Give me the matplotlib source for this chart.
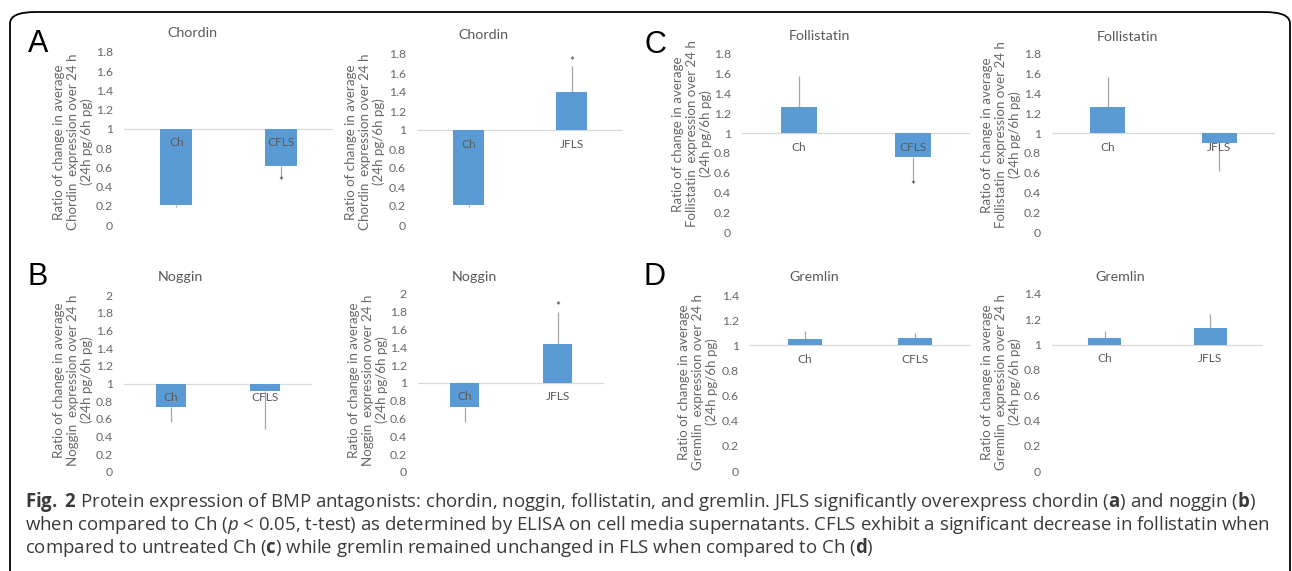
import matplotlib
matplotlib.use("Agg")
import matplotlib.pyplot as plt
from matplotlib.patches import FancyBboxPatch

# ---- data ----
chordin_cfls_cats = ["Ch", "CFLS"]
chordin_cfls_vals = [0.21, 0.61]
chordin_cfls_err = [0.02, 0.11]
chordin_cfls_sig = [False, True]

chordin_jfls_cats = ["Ch", "JFLS"]
chordin_jfls_vals = [0.21, 1.40]
chordin_jfls_err = [0.02, 0.27]
chordin_jfls_sig = [False, True]

noggin_cfls_cats = ["Ch", "CFLS"]
noggin_cfls_vals = [0.74, 0.92]
noggin_cfls_err = [0.18, 0.43]
noggin_cfls_sig = [False, False]

noggin_jfls_cats = ["Ch", "JFLS"]
noggin_jfls_vals = [0.73, 1.44]
noggin_jfls_err = [0.17, 0.36]
noggin_jfls_sig = [False, True]

follistatin_cfls_cats = ["Ch", "CFLS"]
follistatin_cfls_vals = [1.26, 0.76]
follistatin_cfls_err = [0.32, 0.24]
follistatin_cfls_sig = [False, True]

follistatin_jfls_cats = ["Ch", "JFLS"]
follistatin_jfls_vals = [1.26, 0.90]
follistatin_jfls_err = [0.31, 0.28]
follistatin_jfls_sig = [False, False]

gremlin_cfls_cats = ["Ch", "CFLS"]
gremlin_cfls_vals = [1.05, 1.06]
gremlin_cfls_err = [0.06, 0.04]
gremlin_cfls_sig = [False, False]

gremlin_jfls_cats = ["Ch", "JFLS"]
gremlin_jfls_vals = [1.05, 1.13]
gremlin_jfls_err = [0.06, 0.11]
gremlin_jfls_sig = [False, False]

caption_lines = [
    r"$\mathbf{Fig.}$ $\mathbf{2}$ Protein expression of BMP antagonists: chordin, noggin, follistatin, and gremlin. "
    r"JFLS significantly overexpress chordin ($\mathbf{a}$) and noggin ($\mathbf{b}$)",
    r"when compared to Ch ($\mathit{p}$ < 0.05, t-test) as determined by ELISA on cell media supernatants. "
    r"CFLS exhibit a significant decrease in follistatin when",
    r"compared to untreated Ch ($\mathbf{c}$) while gremlin remained unchanged in FLS when compared to Ch ($\mathbf{d}$)",
]

W, H = 1292, 571
BLUE = "#5b9bd5"
GRAY = "#686868"
CHART_FONT = ["Lato", "DejaVu Sans"]

plt.rcParams["mathtext.fontset"] = "custom"
plt.rcParams["mathtext.rm"] = "Open Sans"
plt.rcParams["mathtext.bf"] = "Open Sans:bold"
plt.rcParams["mathtext.it"] = "Open Sans:italic"

fig = plt.figure(figsize=(W / 100, H / 100), dpi=100)


def px_axes(l, t, r, b):
    return fig.add_axes([l / W, 1 - b / H, (r - l) / W, (b - t) / H])


def draw_panel(rect, cats, vals, errs, sig, ymax, protein, title_xy, ylab_xy):
    ax = px_axes(*rect)
    x = list(range(len(cats)))
    heights = [v - 1 for v in vals]
    ax.bar(x, heights, bottom=1, width=0.31, color=BLUE, zorder=2)
    lower = [e if v < 1 else 0 for v, e in zip(vals, errs)]
    upper = [e if v >= 1 else 0 for v, e in zip(vals, errs)]
    ax.errorbar(x, vals, yerr=[lower, upper], fmt="none", ecolor="#a6a6a6",
                elinewidth=0.9, capsize=0, zorder=1)
    ax.axhline(1, color="#d9d9d9", lw=0.9, zorder=0)
    for i, c in enumerate(cats):
        ax.annotate(c, (i, 1), xytext=(0, -14), textcoords="offset pixels",
                    ha="center", va="center", fontsize=8.6, color="#595959",
                    family=CHART_FONT, zorder=3)
        if sig[i]:
            end = vals[i] + upper[i] - lower[i]
            dy = 5 if vals[i] >= 1 else -5
            ax.annotate("*", (i, end), xytext=(0, dy), textcoords="offset pixels",
                        ha="center", va="center", fontsize=8.5, color="#404040",
                        family=CHART_FONT)
    ax.set_xlim(-0.5, len(cats) - 0.5)
    ax.set_ylim(0, ymax)
    ticks = [round(i * 0.2, 1) for i in range(int(round(ymax / 0.2)) + 1)]
    ax.set_yticks(ticks)
    ax.set_yticklabels([f"{t:g}" for t in ticks], fontsize=8.8, color=GRAY,
                       family=CHART_FONT)
    ax.tick_params(axis="y", length=0, pad=8)
    ax.set_xticks([])
    for s in ax.spines.values():
        s.set_visible(False)
    ax.patch.set_alpha(0)
    fig.text(title_xy[0] / W, 1 - title_xy[1] / H, protein, ha="center", va="center",
             fontsize=10.3, color="#595959", family=CHART_FONT)
    fig.text((ylab_xy[0] - 4) / W, 1 - ylab_xy[1] / H,
             "Ratio of change in average\n" + protein + "  expression over 24 h\n(24h pg/6h pg)",
             rotation=90, ha="center", va="center", multialignment="center",
             fontsize=9.6, color=GRAY, family=CHART_FONT, linespacing=1.2)
    return ax


draw_panel((124, 52, 333, 225), chordin_cfls_cats, chordin_cfls_vals, chordin_cfls_err,
           chordin_cfls_sig, 1.8, "Chordin", (192, 33), (77, 142))
draw_panel((417, 54, 623, 225), chordin_jfls_cats, chordin_jfls_vals, chordin_jfls_err,
           chordin_jfls_sig, 1.8, "Chordin", (483, 35), (369, 142))
draw_panel((742, 54, 970, 232), follistatin_cfls_cats, follistatin_cfls_vals, follistatin_cfls_err,
           follistatin_cfls_sig, 1.8, "Follistatin", (819, 36), (696, 134))
draw_panel((1052, 54, 1275, 232), follistatin_jfls_cats, follistatin_jfls_vals, follistatin_jfls_err,
           follistatin_jfls_sig, 1.8, "Follistatin", (1127, 37), (1005, 135))
draw_panel((124, 295, 312, 472), noggin_cfls_cats, noggin_cfls_vals, noggin_cfls_err,
           noggin_cfls_sig, 2.0, "Noggin", (180, 277), (77, 380))
draw_panel((418, 294, 604, 472), noggin_jfls_cats, noggin_jfls_vals, noggin_jfls_err,
           noggin_jfls_sig, 2.0, "Noggin", (474, 277), (372, 380))
draw_panel((750, 295, 970, 471), gremlin_cfls_cats, gremlin_cfls_vals, gremlin_cfls_err,
           gremlin_cfls_sig, 1.4, "Gremlin", (814, 277), (702, 382))
draw_panel((1052, 294, 1263, 471), gremlin_jfls_cats, gremlin_jfls_vals, gremlin_jfls_err,
           gremlin_jfls_sig, 1.4, "Gremlin", (1120, 277), (1005, 382))

# panel letters
for letter, (lx, ly) in zip("ABCD", [(38, 44), (38, 277), (655, 45), (655, 277)]):
    fig.text(lx / W, 1 - ly / H, letter, ha="center", va="center", fontsize=22,
             family="Liberation Sans", color="black")

# rounded frame (bottom edge runs off the canvas)
frame = FancyBboxPatch((10 / W, -0.05), 1280 / W, 1 - 12 / H + 0.05,
                       boxstyle="round,pad=0,rounding_size=0.02",
                       transform=fig.transFigure, fill=False, ec="black", lw=1.3,
                       clip_on=False)
fig.patches.append(frame)

# caption
for line, base in zip(caption_lines, [507, 530, 553]):
    fig.text(25 / W, 1 - base / H, line, ha="left", va="baseline", fontsize=13.4,
             family="Open Sans", color="#3a3a3a")

fig.savefig("out.png", dpi=100)
